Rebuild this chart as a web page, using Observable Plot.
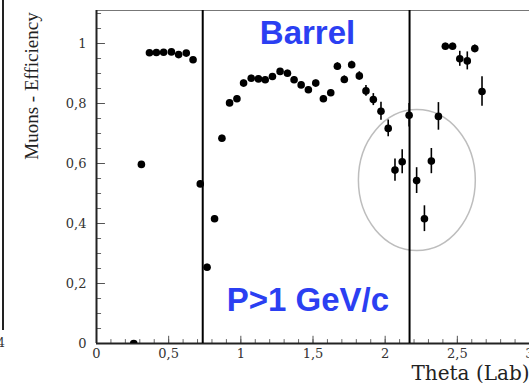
<!DOCTYPE html>
<html>
<head>
<meta charset="utf-8">
<script src="https://cdn.jsdelivr.net/npm/d3@7"></script>
<script src="https://cdn.jsdelivr.net/npm/@observablehq/plot@0.6"></script>
<style>
  html, body { margin: 0; padding: 0; background: #fff; }
  #chart { width: 529px; height: 383px; overflow: hidden; }
</style>
</head>
<body>
<div id="chart"></div>
<script>
// Theta (Lab) bin centres
const thetaX = [0.258, 0.311, 0.367, 0.415, 0.465, 0.519, 0.569, 0.622, 0.669, 0.719,
  0.766, 0.818, 0.869, 0.922, 0.973, 1.019, 1.072, 1.122, 1.169, 1.219,
  1.272, 1.323, 1.369, 1.418, 1.468, 1.519, 1.572, 1.623, 1.669, 1.717,
  1.768, 1.821, 1.867, 1.918, 1.971, 2.021, 2.068, 2.118, 2.166, 2.218,
  2.272, 2.320, 2.369, 2.417, 2.467, 2.517, 2.569, 2.621, 2.671];
// Muon efficiency
const efficiency = [0.0, 0.597, 0.969, 0.970, 0.971, 0.972, 0.963, 0.968, 0.946, 0.532,
  0.254, 0.416, 0.684, 0.802, 0.816, 0.868, 0.884, 0.882, 0.879, 0.890,
  0.907, 0.901, 0.879, 0.862, 0.846, 0.868, 0.816, 0.836, 0.924, 0.880,
  0.929, 0.892, 0.842, 0.813, 0.774, 0.717, 0.578, 0.606, 0.761, 0.543,
  0.416, 0.608, 0.757, 0.991, 0.991, 0.949, 0.942, 0.983, 0.840];
// Error bars (half-length)
const effError = [0, 0.008, 0.005, 0.005, 0.005, 0.005, 0.005, 0.005, 0.005, 0.01,
  0.01, 0.01, 0.01, 0.01, 0.01, 0.01, 0.01, 0.01, 0.01, 0.01,
  0.01, 0.01, 0.01, 0.01, 0.01, 0.01, 0.01, 0.01, 0.012, 0.012,
  0.012, 0.014, 0.018, 0.02, 0.03, 0.028, 0.037, 0.04, 0.039, 0.043,
  0.043, 0.042, 0.046, 0.01, 0.01, 0.025, 0.03, 0.012, 0.049];
// Barrel boundaries
const boundaries = [0.736, 2.169];
// Axis ticks
const xTicks = [0, 0.5, 1, 1.5, 2, 2.5, 3];
const xTickLabels = ["0", "0,5", "1", "1,5", "2", "2,5", "3"];
const yTicks = [0, 0.2, 0.4, 0.6, 0.8, 1];
const yTickLabels = ["0", "0,2", "0,4", "0,6", "0,8", "1"];
const xMinor = d3.range(0, 31).map(i => i / 10);
const yMinor = d3.range(0, 23).map(i => i / 20);
// Annotations
const titleText = ["Barrel"];
const momentumText = ["P>1 GeV/c"];
const xLabel = ["Theta (Lab)"];
const yLabel = ["Muons - Efficiency"];
// Highlighted region (ellipse centre & radii in data units)
const ellipse = {cx: 2.223, cy: 0.543, rx: 0.405, ry: 0.235};

const data = thetaX.map((x, i) => ({x, y: efficiency[i], e: effError[i]}));
const serif = "DejaVu Serif";
const blue = "#2b3ff2";

const plot = Plot.plot({
  width: 529,
  height: 383,
  marginLeft: 96,
  marginRight: 0,
  marginTop: 10,
  marginBottom: 40,
  style: {background: "#fff", overflow: "visible"},
  x: {domain: [0, 3]},
  y: {domain: [0, 1.11]},
  marks: [
    Plot.frame({stroke: "#777", strokeWidth: 1}),
    // minor / major ticks, inward
    Plot.ruleY(yMinor, {y: d => d, x1: 0, x2: 0.035, stroke: "#666", strokeWidth: 1}),
    Plot.ruleY(yTicks, {y: d => d, x1: 0, x2: 0.062, stroke: "#555", strokeWidth: 1}),
    Plot.ruleX(xMinor, {x: d => d, y1: 0, y2: 0.013, stroke: "#666", strokeWidth: 1}),
    Plot.ruleX(xTicks, {x: d => d, y1: 0, y2: 0.024, stroke: "#555", strokeWidth: 1}),
    Plot.axisY({ticks: yTicks, tickSize: 0, tickPadding: 10, fontFamily: serif, fontSize: 13, fill: "#333",
      tickFormat: d => yTickLabels[yTicks.indexOf(d)], label: null}),
    Plot.axisX({ticks: xTicks, tickSize: 0, tickPadding: 5, fontFamily: serif, fontSize: 13, fill: "#333",
      tickFormat: d => xTickLabels[xTicks.indexOf(d)], label: null}),
    Plot.ruleX([0], {stroke: "#222", strokeWidth: 2}),
    Plot.ruleY([0], {stroke: "#222", strokeWidth: 2}),
    Plot.ruleX(boundaries, {stroke: "#000", strokeWidth: 2}),
    Plot.ruleX(data, {x: "x", y1: d => d.y - d.e, y2: d => d.y + d.e, stroke: "#000", strokeWidth: 1.6}),
    Plot.dot(data, {x: "x", y: "y", r: 3.8, fill: "#000", stroke: null, clip: true}),
    Plot.text(titleText, {x: 1.462, y: 1.0, text: d => d, lineAnchor: "bottom", textAnchor: "middle",
      fontFamily: "Liberation Sans", fontWeight: "bold", fontSize: 33, fill: blue}),
    Plot.text(momentumText, {x: 1.465, y: 0.11, text: d => d, lineAnchor: "bottom", textAnchor: "middle",
      fontFamily: "Liberation Sans", fontWeight: "bold", fontSize: 33, fill: blue}),
    Plot.text(xLabel, {frameAnchor: "bottom-right", text: d => d, textAnchor: "end", lineAnchor: "bottom",
      dy: 36, fontFamily: serif, fontSize: 20, fill: "#222"}),
    Plot.text(yLabel, {frameAnchor: "left", text: d => d, rotate: -90, textAnchor: "middle", lineAnchor: "middle",
      dx: -65, dy: -91, fontFamily: "Liberation Serif", fontSize: 19, fill: "#222"})
  ]
});

// Gray ellipse highlighting the gap region, placed through the plot's scales
const sx = plot.scale("x"), sy = plot.scale("y");
const svg = d3.select(plot);
const cxp = sx.apply(ellipse.cx), cyp = sy.apply(ellipse.cy);
const rxp = sx.apply(ellipse.cx + ellipse.rx) - cxp;
const ryp = sy.apply(ellipse.cy - ellipse.ry) - cyp;
svg.insert("ellipse", ":scope > g[aria-label='rule']:nth-of-type(1)")
  .attr("cx", cxp).attr("cy", cyp).attr("rx", rxp).attr("ry", ryp)
  .attr("fill", "none").attr("stroke", "#bdbdbd").attr("stroke-width", 1.5);

// Edge of the neighbouring panel at the far left
svg.append("line").attr("x1", 3).attr("x2", 3).attr("y1", 0).attr("y2", 330)
  .attr("stroke", "#222").attr("stroke-width", 2);
svg.append("text").attr("x", 1).attr("y", 347).text("4")
  .attr("font-family", serif).attr("font-size", 12).attr("fill", "#333");

document.getElementById("chart").appendChild(plot);
</script>
</body>
</html>
